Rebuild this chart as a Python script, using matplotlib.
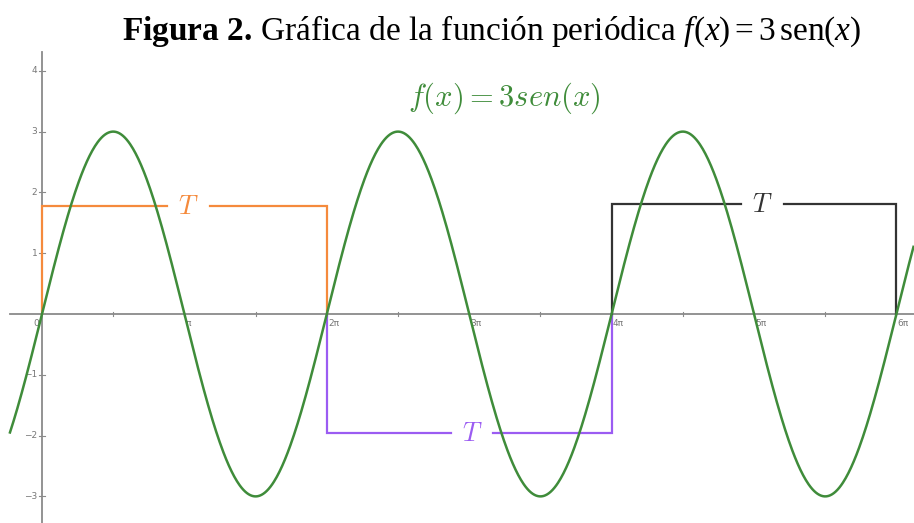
import numpy as np
import matplotlib
matplotlib.use("Agg")
import matplotlib.pyplot as plt

plt.rcParams["mathtext.fontset"] = "custom"
plt.rcParams["mathtext.rm"] = "Liberation Serif"
plt.rcParams["mathtext.it"] = "Liberation Serif:italic"
plt.rcParams["mathtext.bf"] = "Liberation Serif:bold"

PI = np.pi

# x ticks in multiples of pi, y ticks as integers
X_TICKS = [1, 2, 3, 4, 5, 6]
X_LABELS = ["π", "2π", "3π", "4π", "5π", "6π"]
Y_TICKS = [-3, -2, -1, 1, 2, 3, 4]
Y_LABELS = ["−3", "−2", "−1", "1", "2", "3", "4"]
HALF_TICKS = [0.5, 1.5, 2.5, 3.5, 4.5, 5.5]

AMPLITUDE = 3
CURVE_START = -0.225   # in multiples of pi
CURVE_END = 6.12

# period brackets: start, end (multiples of pi), height, label position, colour
BRACKET_START = [0, 2, 4]
BRACKET_END = [2, 4, 6]
BRACKET_LEVEL = [1.78, -1.96, 1.81]
BRACKET_LABEL_X = [1.03, 3.02, 5.06]
BRACKET_COLORS = ["#f58a3c", "#9b5cf2", "#333333"]
GAP_HALF = 0.15

GREEN = "#3f8c3a"
AXIS_GRAY = "#8a8a8a"

fig = plt.figure(figsize=(9.14, 5.23), dpi=100)
ax = fig.add_axes([0, 0, 1, 1])
ax.set_xlim(-42 / 142.4 * PI, (914 - 42) / 142.4 * PI)
ax.set_ylim(-(523 - 314) / 60.8, 314 / 60.8)
ax.axis("off")

# axes drawn through the origin
ax.plot([CURVE_START * PI, 20], [0, 0], color=AXIS_GRAY, lw=1.3, zorder=1)
ax.plot([0, 0], [-4, 4.31], color=AXIS_GRAY, lw=1.3, zorder=1)

for t, lab in zip(X_TICKS, X_LABELS):
    ax.plot([t * PI, t * PI], [-0.04, 0.04], color=AXIS_GRAY, lw=0.8, zorder=1)
    ax.text(t * PI + 0.03, -0.09, lab, fontsize=6.5, color="#777777",
            ha="left", va="top")
for t in HALF_TICKS:
    ax.plot([t * PI, t * PI], [-0.025, 0.025], color=AXIS_GRAY, lw=0.8, zorder=1)
ax.text(-0.06, -0.09, "0", fontsize=6.5, color="#777777", ha="right", va="top")

for t, lab in zip(Y_TICKS, Y_LABELS):
    ax.plot([-0.07, 0.07], [t, t], color=AXIS_GRAY, lw=0.8, zorder=1)
    ax.text(-0.1, t, lab, fontsize=6.5, color="#777777", ha="right", va="center")

# period brackets with their label in a gap of the top/bottom edge
for x0, x1, lvl, lx, col in zip(BRACKET_START, BRACKET_END, BRACKET_LEVEL,
                                BRACKET_LABEL_X, BRACKET_COLORS):
    ax.plot([x0 * PI, x0 * PI, (lx - GAP_HALF) * PI], [0, lvl, lvl],
            color=col, lw=1.6, zorder=2, solid_joinstyle="miter")
    ax.plot([(lx + GAP_HALF) * PI, x1 * PI, x1 * PI], [lvl, lvl, 0],
            color=col, lw=1.6, zorder=2, solid_joinstyle="miter")
    ax.text(lx * PI, lvl - 0.02, "$T$", color=col, fontsize=19,
            math_fontfamily="cm", ha="center", va="center")

x = np.linspace(CURVE_START * PI, CURVE_END * PI, 1000)
ax.plot(x, AMPLITUDE * np.sin(x), color=GREEN, lw=1.8, zorder=3)

ax.text(3.25 * PI, 3.55, r"$f(x) = 3sen(x)$", color=GREEN, fontsize=22,
        math_fontfamily="cm", ha="center", va="center")

# caption above the plot
fig.text(0.538, 0.924,
         r"$\mathbf{Figura\ 2.}\,$Gráfica de la función periódica "
         r"$f(x) = 3\,\mathrm{sen}(x)$",
         fontsize=24, family="Liberation Serif", ha="center", va="baseline")

fig.savefig("out.png", dpi=100)
